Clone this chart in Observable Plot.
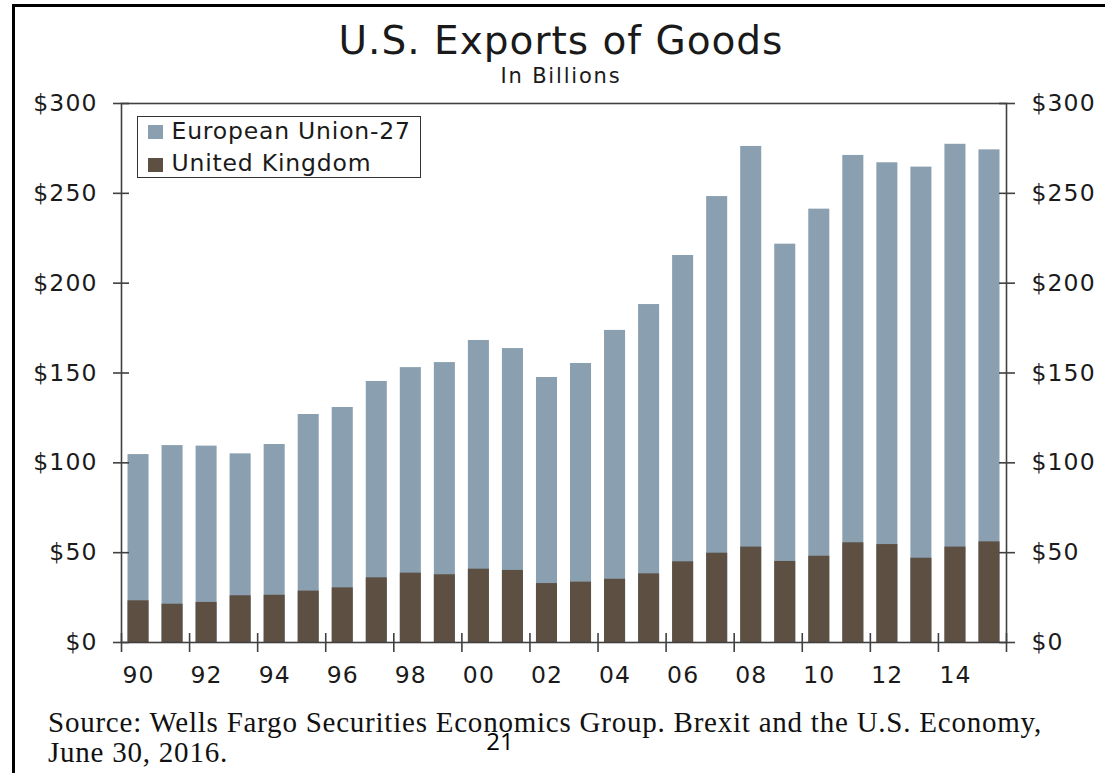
<!DOCTYPE html>
<html>
<head>
<meta charset="utf-8">
<script src="https://cdn.jsdelivr.net/npm/d3@7"></script>
<script src="https://cdn.jsdelivr.net/npm/@observablehq/plot@0.6"></script>
<style>
  body { margin: 0; background: #fff; }
  #page { position: relative; width: 1105px; height: 773px; overflow: hidden; background: #fff;
          font-family: "DejaVu Sans", Verdana, sans-serif; color: #1a1a1a; }
  #border { position: absolute; left: 12px; top: 4px; width: 1200px; height: 900px;
            border-left: 3px solid #000; border-top: 3px solid #000; box-sizing: border-box; }
  #chart { position: absolute; left: 0; top: 0; }
  .abs { position: absolute; white-space: nowrap; }
  #title { left: 0; width: 1122px; text-align: center; top: 21px; font-size: 39px; line-height: 39px; letter-spacing: 1px; }
  #subtitle { left: 0; width: 1122px; text-align: center; top: 66px; font-size: 21px; line-height: 21px; letter-spacing: 1.8px; }
  #legend { left: 137px; top: 116px; width: 284px; height: 62px; border: 1.5px solid #333; background: #fff; box-sizing: border-box; }
  .sw { position: absolute; width: 15px; height: 14px; }
  .lt { position: absolute; font-size: 23.5px; line-height: 23.5px; letter-spacing: 0.8px; white-space: nowrap; }
  #source { left: 48px; top: 707px; font-family: "Liberation Serif", "Times New Roman", serif; font-size: 29px; line-height: 30px; letter-spacing: 0.77px; color: #111; }
  #pagenum { left: 470px; width: 60px; text-align: center; top: 729px; font-family: "Open Sans", sans-serif; font-size: 24px; line-height: 24px; color: #000; }
</style>
</head>
<body>
<div id="page">
  <div id="chart"></div>
  <div id="border"></div>
  <div id="title" class="abs"></div>
  <div id="subtitle" class="abs"></div>
  <div id="legend" class="abs"></div>
  <div id="source" class="abs"></div>
  <div id="pagenum" class="abs"></div>
</div>
<script>
// ---- Data (billions of US$) ----
const years = [1990, 1991, 1992, 1993, 1994, 1995, 1996, 1997, 1998, 1999, 2000, 2001, 2002,
               2003, 2004, 2005, 2006, 2007, 2008, 2009, 2010, 2011, 2012, 2013, 2014, 2015];
const euValues = [104.6, 109.6, 109.3, 105.0, 110.2, 126.9, 130.8, 145.3, 153.0, 155.8, 168.1, 163.6, 147.5,
                  155.3, 173.7, 188.1, 215.4, 248.2, 276.1, 221.7, 241.2, 271.1, 267.0, 264.6, 277.3, 274.2];
const ukValues = [23.2, 21.3, 22.3, 26.0, 26.3, 28.6, 30.4, 36.0, 38.6, 37.7, 40.8, 40.1, 32.8,
                  33.6, 35.2, 38.2, 44.9, 49.7, 53.1, 45.1, 48.0, 55.5, 54.5, 46.9, 53.1, 56.0];
const seriesNames = ["European Union-27", "United Kingdom"];
const seriesColors = ["#8aa0b0", "#5d4f42"];
const yTickValues = [0, 50, 100, 150, 200, 250, 300];
const xLabelYears = [1990, 1992, 1994, 1996, 1998, 2000, 2002, 2004, 2006, 2008, 2010, 2012, 2014];
const titleText = "U.S. Exports of Goods";
const subtitleText = "In Billions";
const sourceLines = ["Source: Wells Fargo Securities Economics Group. Brexit and the U.S. Economy,", "June 30, 2016."];
const pageNumber = "21";

// ---- Build tables ----
const eu = years.map((year, i) => ({year, value: euValues[i]}));
const uk = years.map((year, i) => ({year, value: ukValues[i]}));
const boundaryTicks = years.filter((y, i) => i % 2 === 0).map(y => y - 0.5).concat([years[years.length - 1] + 0.5]);

const axisStroke = "#404040";
const barOpts = {x1: d => d.year - 0.5, x2: d => d.year + 0.5, y: "value", insetLeft: 6.5, insetRight: 6.5};

const chart = Plot.plot({
  width: 1105,
  height: 700,
  marginLeft: 121,
  marginRight: 99,
  marginTop: 103,
  marginBottom: 58,
  style: {fontFamily: "DejaVu Sans, Verdana, sans-serif", fontSize: "23.5px", color: "#1a1a1a", background: "transparent", letterSpacing: "1.1px", overflow: "visible"},
  x: {domain: [years[0] - 0.5, years[years.length - 1] + 0.5]},
  y: {domain: [0, 300]},
  marks: [
    Plot.rectY(eu, {...barOpts, fill: seriesColors[0]}),
    Plot.rectY(uk, {...barOpts, fill: seriesColors[1]}),
    Plot.frame({stroke: axisStroke, strokeWidth: 1.6}),
    Plot.axisY({anchor: "left", ticks: yTickValues, tickSize: 16, dx: 8, fill: "none", label: null, stroke: axisStroke, strokeWidth: 1.6}),
    Plot.axisY({anchor: "right", ticks: yTickValues, tickSize: 16, dx: -8, fill: "none", label: null, stroke: axisStroke, strokeWidth: 1.6}),
    Plot.axisY({anchor: "left", ticks: yTickValues, tickSize: 0, tickPadding: 24, tickFormat: d => "$" + d, label: null}),
    Plot.axisY({anchor: "right", ticks: yTickValues, tickSize: 0, tickPadding: 25, tickFormat: d => "$" + d, label: null}),
    Plot.axisX({ticks: boundaryTicks, tickSize: 19, dy: -9, fill: "none", label: null, stroke: axisStroke, strokeWidth: 1.6}),
    Plot.axisX({ticks: xLabelYears, tickSize: 0, tickPadding: 24, tickFormat: d => String(d).slice(2), label: null})
  ]
});
document.getElementById("chart").appendChild(chart);

document.getElementById("title").textContent = titleText;
document.getElementById("subtitle").textContent = subtitleText;
document.getElementById("pagenum").textContent = pageNumber;
document.getElementById("source").innerHTML = sourceLines.map(s => `<div>${s}</div>`).join("");

const legend = document.getElementById("legend");
seriesNames.forEach((name, i) => {
  const sw = document.createElement("div");
  sw.className = "sw";
  sw.style.left = "9.5px";
  sw.style.top = (7.5 + i * 33) + "px";
  sw.style.background = seriesColors[i];
  legend.appendChild(sw);
  const t = document.createElement("div");
  t.className = "lt";
  t.style.left = "33.5px";
  t.style.top = (3 + i * 32) + "px";
  t.textContent = name;
  legend.appendChild(t);
});
</script>
</body>
</html>
